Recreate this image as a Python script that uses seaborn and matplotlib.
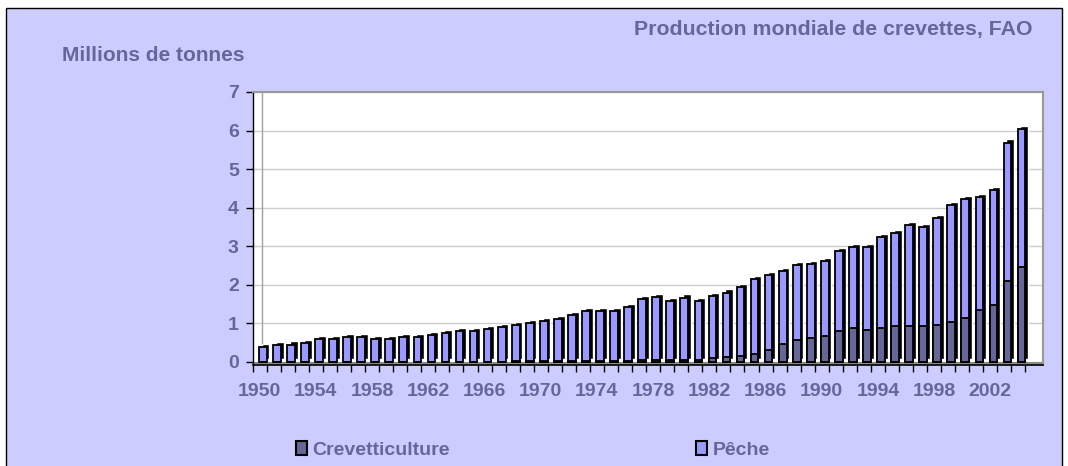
import numpy as np
import pandas as pd
import matplotlib
matplotlib.use("Agg")
import matplotlib.pyplot as plt
import seaborn as sns
from matplotlib.patches import Patch, Rectangle

# ---------------- data (millions de tonnes) ----------------
years = list(range(1950, 2005))
crevetticulture = [
    0.01, 0.01, 0.01, 0.01, 0.01, 0.01, 0.01, 0.01, 0.01, 0.01,   # 1950-59
    0.01, 0.01, 0.01, 0.01, 0.01, 0.01, 0.01, 0.01, 0.02, 0.02,   # 1960-69
    0.02, 0.02, 0.02, 0.03, 0.03, 0.03, 0.03, 0.04, 0.04, 0.05,   # 1970-79
    0.05, 0.06, 0.10, 0.13, 0.15, 0.21, 0.30, 0.46, 0.56, 0.62,   # 1980-89
    0.68, 0.81, 0.87, 0.82, 0.87, 0.92, 0.92, 0.92, 0.96, 1.03,   # 1990-99
    1.13, 1.34, 1.47, 2.11, 2.47,                                 # 2000-04
]
peche = [
    0.37, 0.43, 0.44, 0.49, 0.58, 0.58, 0.64, 0.64, 0.58, 0.58,   # 1950-59
    0.64, 0.64, 0.69, 0.75, 0.80, 0.80, 0.84, 0.89, 0.94, 0.99,   # 1960-69
    1.05, 1.09, 1.20, 1.29, 1.29, 1.29, 1.40, 1.60, 1.64, 1.52,   # 1970-79
    1.62, 1.52, 1.62, 1.67, 1.78, 1.94, 1.96, 1.90, 1.95, 1.91,   # 1980-89
    1.93, 2.06, 2.11, 2.15, 2.38, 2.42, 2.63, 2.58, 2.76, 3.04,   # 1990-99
    3.10, 2.94, 2.98, 3.58, 3.58,                                 # 2000-04
]
tick_years = list(range(1950, 2003, 4))
y_ticks = list(range(0, 8))
series_labels = ["Crevetticulture", "Pêche"]
title = "Production mondiale de crevettes, FAO"
unit_label = "Millions de tonnes"

# ---------------- style ----------------
LAV = "#CCCCFF"
TXT = "#666699"
PECHE_C = "#9999FF"
CREV_C = "#666699"

sns.set_theme(style="white")
plt.rcParams["font.family"] = ["Liberation Sans", "DejaVu Sans"]

W, H = 1068, 466
fig = plt.figure(figsize=(W / 100, H / 100), dpi=100, facecolor="white")
fig.patches.append(Rectangle((6 / W, -0.01), (1062 - 6) / W, 1.01 - 8 / H,
                             transform=fig.transFigure, facecolor=LAV,
                             edgecolor="black", lw=1, zorder=-10))

ax = fig.add_axes([252.7 / W, (H - 365) / H, (1043 - 252.7) / W, (365 - 92) / H])
ax.set_facecolor("white")

total = np.add(crevetticulture, peche)
df = pd.DataFrame({"year": years, "total": total, "crev": crevetticulture})
pos = np.array(years, dtype=float)
BAR_W = 0.55
FRONT_OFF = 0.22
DEPTH_X = 0.2
DEPTH_Y = 0.08

# depth (3D side / top) of each column
ax.bar(pos + FRONT_OFF + DEPTH_X, total, width=BAR_W, bottom=DEPTH_Y,
       color="black", zorder=2)
df["x"] = pos + FRONT_OFF
sns.barplot(data=df, x="x", y="total", native_scale=True, color=PECHE_C,
            saturation=1, width=BAR_W, edgecolor="black", linewidth=1.3,
            errorbar=None, ax=ax, zorder=3)
sns.barplot(data=df, x="x", y="crev", native_scale=True, color=CREV_C,
            saturation=1, width=BAR_W, edgecolor="black", linewidth=1.3,
            errorbar=None, ax=ax, zorder=4)

x_left = years[0] - 0.5
ax.set_xlim(x_left, x_left + (1043 - 252.7) / 14.05)
ax.set_ylim(-0.08, 7)

# floor and side wall
ax.axhspan(-0.08, 0, color="#8a8a8a", zorder=1.5, lw=0)
ax.axvline(x_left + 9 / 14.05, color="#A0A0A0", lw=1, zorder=1)

ax.set_axisbelow(True)
ax.yaxis.grid(True, color="#CCCCCC", lw=1)
ax.xaxis.grid(False)

ax.set_yticks(y_ticks)
ax.set_yticklabels([str(v) for v in y_ticks])
ax.set_xticks(tick_years)
ax.set_xticklabels([str(y) for y in tick_years])
ax.set_xticks(list(np.array(years) - 0.5) + [years[-1] + 0.5], minor=True)

ax.tick_params(axis="y", left=True, length=5, width=1, color="black",
               pad=5, labelsize=14, labelcolor=TXT)
ax.tick_params(axis="x", which="major", bottom=True, length=0, pad=13,
               labelsize=14, labelcolor=TXT)
ax.tick_params(axis="x", which="minor", bottom=True, length=5, width=1,
               color="black")
for lab in ax.get_xticklabels() + ax.get_yticklabels():
    lab.set_fontweight("bold")
ax.set_xlabel("")
ax.set_ylabel("")

ax.spines["left"].set_color("black")
ax.spines["left"].set_linewidth(1)
ax.spines["bottom"].set_color("black")
ax.spines["bottom"].set_linewidth(1.2)
for s in ("top", "right"):
    ax.spines[s].set_color("#999999")
    ax.spines[s].set_linewidth(1.5)

fig.text(61.7 / W, (H - 60.7) / H, unit_label, fontsize=15, fontweight="bold",
         color=TXT, ha="left", va="baseline")
fig.text(1032 / W, (H - 35) / H, title, fontsize=15.3, fontweight="bold",
         color=TXT, ha="right", va="baseline")

for label, colr, xpx in zip(series_labels, [CREV_C, PECHE_C], [296, 696]):
    fig.legend(handles=[Patch(facecolor=colr, edgecolor="black", lw=1.5)],
               labels=[label], loc="center left",
               bbox_to_anchor=(xpx / W, (H - 450) / H), frameon=False,
               prop={"weight": "bold", "size": 14}, labelcolor=TXT,
               handlelength=0.55, handleheight=0.7, handletextpad=0.3,
               borderpad=0, borderaxespad=0)

fig.savefig("out.png", dpi=100, facecolor=fig.get_facecolor())
